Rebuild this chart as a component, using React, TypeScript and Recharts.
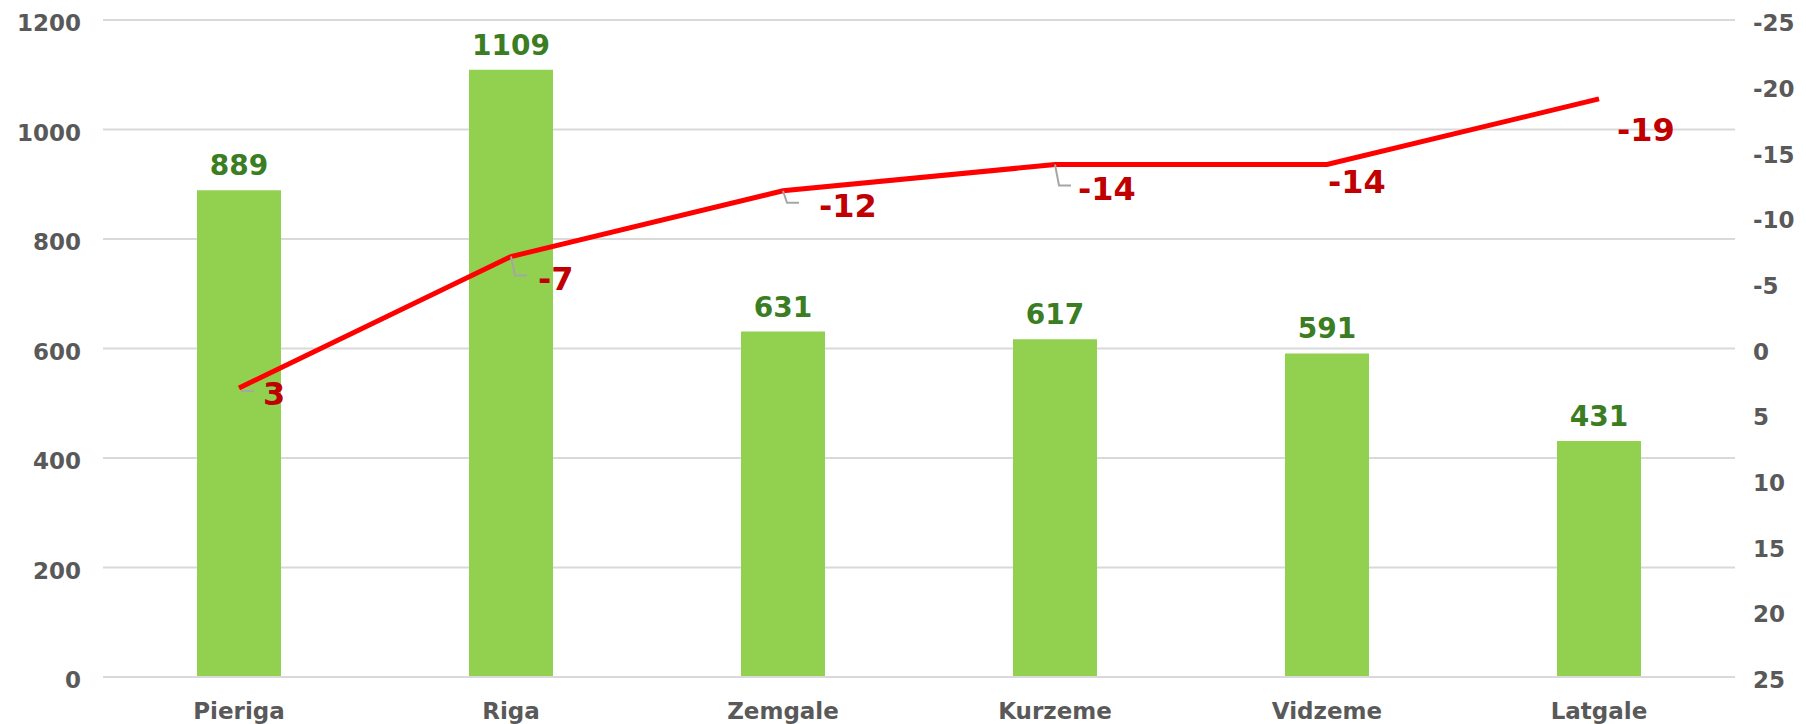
import React from "react";
import { ComposedChart, Bar, Line, XAxis, YAxis, CartesianGrid, LabelList } from "recharts";

const regions = ["Pieriga", "Riga", "Zemgale", "Kurzeme", "Vidzeme", "Latgale"];
const counts = [889, 1109, 631, 617, 591, 431];
const changes = [3, -7, -12, -14, -14, -19];
const leftTicks = [0, 200, 400, 600, 800, 1000, 1200];
const rightTicks = [-25, -20, -15, -10, -5, 0, 5, 10, 15, 20, 25];

// where each red label sits relative to its point, and whether it has a leader
const labelPlacement = [
  { dx: 24, dy: 17, leader: "h" },
  { dx: 27, dy: 33, leader: "l" },
  { dx: 36, dy: 26, leader: "l" },
  { dx: 23, dy: 35, leader: "l" },
  { dx: 1, dy: 28, leader: "" },
  { dx: 18, dy: 42, leader: "" },
];

const data = regions.map((name, i) => ({ name, count: counts[i], change: changes[i] }));

const FONT = "'DejaVu Sans', Verdana, sans-serif";
const TICK = { fill: "#595959", fontSize: 23, fontWeight: 700, fontFamily: FONT };

function BarValue(props: any) {
  const { x, y, width, value } = props;
  return (
    <text x={x + width / 2} y={y - 15} textAnchor="middle" fill="#3B7D23"
      fontSize={28} fontWeight={700} fontFamily={FONT}>
      {value}
    </text>
  );
}

function ChangeValue(props: any) {
  const { x, y, value, index } = props;
  const p = labelPlacement[index];
  let leader = null;
  if (p.leader === "l") {
    const drop = p.dy - 14;
    leader = (
      <polyline points={`${x},${y} ${x + 4},${y + drop} ${x + 16},${y + drop}`}
        fill="none" stroke="#A6A6A6" strokeWidth={2} />
    );
  } else if (p.leader === "h") {
    leader = <line x1={x + 2} y1={y + 3} x2={x + 15} y2={y + 3} stroke="#A6A6A6" strokeWidth={2} />;
  }
  return (
    <g>
      {leader}
      <text x={x + p.dx} y={y + p.dy} fill="#C00000" fontSize={32} fontWeight={700} fontFamily={FONT}>
        {value}
      </text>
    </g>
  );
}

export default function App() {
  return (
    <div style={{ position: "fixed", left: 0, top: 0, background: "#fff" }}>
      <ComposedChart width={1806} height={724} data={data}
        margin={{ top: 20, right: 0, bottom: 0, left: 0 }}>
        <CartesianGrid yAxisId="left" vertical={false} stroke="#D9D9D9" strokeWidth={2} />
        <XAxis dataKey="name" axisLine={{ stroke: "#D9D9D9", strokeWidth: 2 }} tickLine={false}
          tick={TICK} tickMargin={20} height={47} />
        <YAxis yAxisId="left" orientation="left" domain={[0, 1200]} ticks={leftTicks}
          axisLine={false} tickLine={false} tickSize={0} tickMargin={22} width={103}
          tick={{ ...TICK, dy: 3 }} />
        <YAxis yAxisId="right" orientation="right" domain={[-25, 25]} ticks={rightTicks} reversed
          axisLine={false} tickLine={false} tickSize={0} tickMargin={18} width={71}
          tick={{ ...TICK, textAnchor: "start", dy: 3 }} />
        <Bar yAxisId="left" dataKey="count" fill="#92D050" barSize={84} isAnimationActive={false}>
          <LabelList dataKey="count" content={BarValue} />
        </Bar>
        <Line yAxisId="right" dataKey="change" stroke="#FF0000" strokeWidth={5} dot={false}
          type="linear" isAnimationActive={false}>
          <LabelList dataKey="change" content={ChangeValue} />
        </Line>
      </ComposedChart>
    </div>
  );
}
